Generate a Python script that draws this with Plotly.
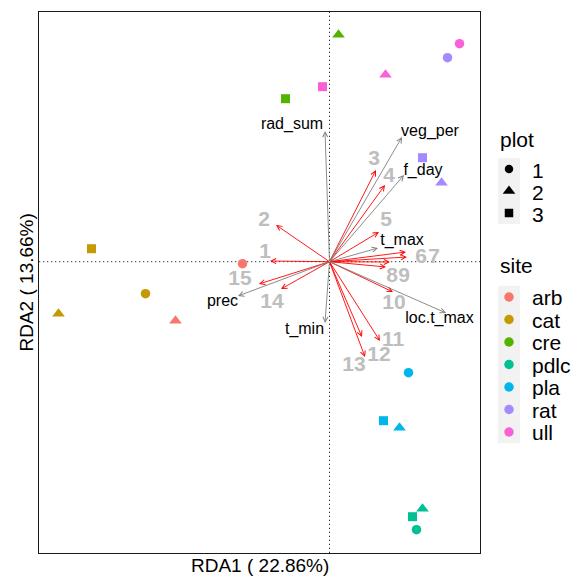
import plotly.graph_objects as go

# ---------------- data ----------------
# sample scores (RDA1, RDA2)
site = ["cre", "ull", "rat", "ull", "ull", "cre", "rat", "rat", "cat", "arb",
        "cat", "cat", "arb", "pla", "pla", "pla", "pdlc", "pdlc", "pdlc"]
plot_id = ["2", "1", "1", "2", "3", "3", "3", "2", "3", "1",
           "1", "2", "2", "1", "3", "2", "2", "3", "1"]
rda1 = [0.09, 1.30, 1.18, 0.56, -0.07, -0.44, 0.93, 1.12, -2.38, -0.87,
        -1.84, -2.71, -1.54, 0.79, 0.54, 0.70, 0.93, 0.83, 0.87]
rda2 = [2.27, 2.18, 2.04, 1.87, 1.75, 1.63, 1.04, 0.79, 0.13, -0.02,
        -0.32, -0.52, -0.59, -1.11, -1.59, -1.66, -2.47, -2.55, -2.68]

# environmental vectors
env_names = ["rad_sum", "veg_per", "f_day", "t_max", "loc.t_max", "prec", "t_min"]
env_x = [-0.045, 0.725, 0.745, 0.485, 1.165, -0.915, -0.045]
env_y = [1.307, 1.247, 0.867, 0.137, -0.513, -0.343, -0.613]
env_lab_x = [-0.375, 1.005, 0.935, 0.725, 1.10, -1.07, -0.25]
env_lab_y = [1.367, 1.297, 0.907, 0.207, -0.573, -0.403, -0.683]

# species vectors
sp_names = [str(i) for i in range(1, 16)]
sp_x = [-0.595, -0.535, 0.465, 0.555, 0.495, 0.765, 0.775, 0.605, 0.565,
        0.635, 0.505, 0.325, 0.355, -0.485, -0.705]
sp_y = [0.007, 0.367, 0.917, 0.767, 0.297, 0.097, 0.047, -0.003, -0.053,
        -0.303, -0.793, -0.753, -0.953, -0.273, -0.223]
sp_lab_x = [-0.645, -0.655, 0.445, 0.595, 0.565, 0.915, 1.045, 0.625, 0.745,
            0.645, 0.635, 0.495, 0.245, -0.575, -0.895]
sp_lab_y = [0.087, 0.407, 1.017, 0.847, 0.407, 0.037, 0.037, -0.153, -0.153,
            -0.423, -0.793, -0.943, -1.043, -0.413, -0.183]

site_levels = ["arb", "cat", "cre", "pdlc", "pla", "rat", "ull"]
site_colors = ["#F8766D", "#C49A00", "#53B400", "#00C094", "#00B6EB", "#A58AFF", "#FB61D7"]
plot_levels = ["1", "2", "3"]
plot_symbols = ["circle", "triangle-up", "square"]
plot_sizes = [9.5, 11, 9]

x_title = "RDA1 ( 22.86%)"
y_title = "RDA2 ( 13.66%)"

# ---------------- layout constants ----------------
W, H = 583, 578
PX0, PX1, PY0, PY1 = 39, 480, 12, 553   # panel in pixels
FONT = "Liberation Sans, Arial, Helvetica, sans-serif"
XR = [-2.905, 1.505]
YR = [-2.913, 2.497]

sym_of = dict(zip(plot_levels, plot_symbols))
size_of = dict(zip(plot_levels, plot_sizes))

fig = go.Figure()

# sample points
for s, col in zip(site_levels, site_colors):
    idx = [i for i, v in enumerate(site) if v == s]
    fig.add_trace(go.Scatter(
        x=[rda1[i] for i in idx], y=[rda2[i] for i in idx], mode="markers",
        marker=dict(color=col, symbol=[sym_of[plot_id[i]] for i in idx], opacity=1,
                    size=[size_of[plot_id[i]] for i in idx], line=dict(width=0)),
        showlegend=False, hoverinfo="skip"))

# species labels
fig.add_trace(go.Scatter(
    x=sp_lab_x, y=sp_lab_y, mode="text", text=sp_names, textposition="middle center",
    textfont=dict(family=FONT, size=21, color="#BEBEBE", weight="bold"),
    showlegend=False, hoverinfo="skip"))

# env labels
fig.add_trace(go.Scatter(
    x=env_lab_x, y=env_lab_y, mode="text", text=env_names, textposition="middle center",
    textfont=dict(family=FONT, size=16, color="black"),
    showlegend=False, hoverinfo="skip"))

# arrows
for x, y in zip(sp_x, sp_y):
    fig.add_annotation(x=x, y=y, ax=0, ay=0, xref="x", yref="y", axref="x", ayref="y",
                       text="", showarrow=True, arrowhead=5, arrowsize=1.1, arrowwidth=0.9,
                       arrowcolor="#FF0000", standoff=0, borderpad=0)
for x, y in zip(env_x, env_y):
    fig.add_annotation(x=x, y=y, ax=0, ay=0, xref="x", yref="y", axref="x", ayref="y",
                       text="", showarrow=True, arrowhead=5, arrowsize=1.1, arrowwidth=0.9,
                       arrowcolor="#7F7F7F", standoff=0, borderpad=0)

# zero lines
fig.add_shape(type="line", xref="x", yref="y domain", x0=0, x1=0, y0=0, y1=1,
              line=dict(color="#333333", width=1, dash="1.3px,2.7px"), layer="below")
fig.add_shape(type="line", xref="x domain", yref="y", x0=0, x1=1, y0=0, y1=0,
              line=dict(color="#333333", width=1, dash="1.3px,2.7px"), layer="below")

# ---------------- manual legend (pixel coordinates on x2/y2) ----------------
LX0 = 490
KEY_X, KEY_L, KEY_R, TXT_X, TITLE_X = 509, 498, 520, 531, 499
PLOT_TITLE_Y, PLOT_Y0, SITE_TITLE_Y, SITE_Y0 = 139, 169, 265, 297
STEP_P, STEP_S = 22, 22.5

plot_y = [PLOT_Y0 + STEP_P * i for i in range(len(plot_levels))]
site_y = [SITE_Y0 + STEP_S * i for i in range(len(site_levels))]

fig.add_shape(type="rect", xref="x2", yref="y2", x0=KEY_L, x1=KEY_R,
              y0=plot_y[0] - STEP_P / 2, y1=plot_y[-1] + STEP_P / 2,
              fillcolor="#F2F2F2", line=dict(width=0), layer="below")
fig.add_shape(type="rect", xref="x2", yref="y2", x0=KEY_L, x1=KEY_R,
              y0=site_y[0] - STEP_S / 2, y1=site_y[-1] + STEP_S / 2,
              fillcolor="#F2F2F2", line=dict(width=0), layer="below")

fig.add_trace(go.Scatter(
    x=[KEY_X] * len(plot_levels), y=plot_y, mode="markers", xaxis="x2", yaxis="y2",
    marker=dict(color="black", symbol=plot_symbols, size=[8.5, 11, 8.5], opacity=1,
                line=dict(width=0)),
    showlegend=False, hoverinfo="skip"))
fig.add_trace(go.Scatter(
    x=[KEY_X] * len(site_levels), y=site_y, mode="markers", xaxis="x2", yaxis="y2",
    marker=dict(color=site_colors, symbol="circle", size=9.5, opacity=1, line=dict(width=0)),
    showlegend=False, hoverinfo="skip"))

def leg_text(txt, x, y):
    fig.add_annotation(x=x, y=y, xref="x2", yref="y2", text=txt, showarrow=False,
                       xanchor="left", yanchor="middle", borderpad=0,
                       font=dict(family=FONT, size=21, color="black"))

leg_text("plot", TITLE_X, PLOT_TITLE_Y)
leg_text("site", TITLE_X, SITE_TITLE_Y)
for lab, y in zip(plot_levels, plot_y):
    leg_text(lab, TXT_X, y + 1)
for lab, y in zip(site_levels, site_y):
    leg_text(lab, TXT_X, y + 0.5)

# axis titles
fig.add_annotation(x=(PX0 + PX1) / 2 / W, y=1 - 565 / H, xref="paper", yref="paper",
                   text=x_title, showarrow=False, xanchor="center", yanchor="middle",
                   font=dict(family=FONT, size=19, color="black"))
fig.add_annotation(x=26 / W, y=1 - (PY0 + PY1) / 2 / H, xref="paper", yref="paper",
                   text=y_title, showarrow=False, xanchor="center", yanchor="middle",
                   textangle=-90, font=dict(family=FONT, size=19, color="black"))

axis_common = dict(showgrid=False, zeroline=False, showticklabels=False, ticks="",
                   showline=True, mirror=True, linecolor="#1A1A1A", linewidth=1.2)

fig.update_layout(
    width=W, height=H, margin=dict(l=0, r=0, t=0, b=0),
    paper_bgcolor="white", plot_bgcolor="white", showlegend=False,
    font=dict(family=FONT, color="black"),
    xaxis=dict(domain=[PX0 / W, PX1 / W], range=XR, **axis_common),
    yaxis=dict(domain=[1 - PY1 / H, 1 - PY0 / H], range=YR, **axis_common),
    xaxis2=dict(domain=[LX0 / W, 1], range=[LX0, W], visible=False, anchor="y2"),
    yaxis2=dict(domain=[0, 1], range=[H, 0], visible=False, anchor="x2"),
)

fig.write_html("out.html")
